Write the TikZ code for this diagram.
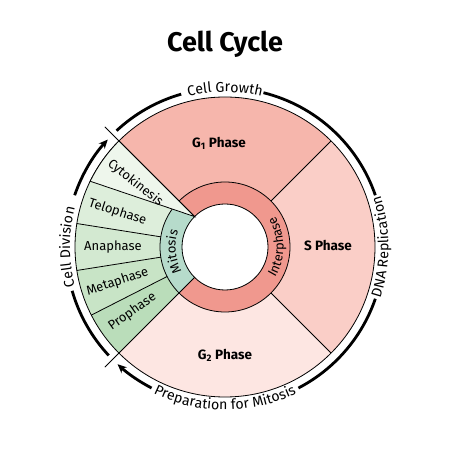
\documentclass[tikz,border=0pt]{standalone}
\usepackage{fontspec}
\setmainfont{Fira Sans}
\usetikzlibrary{arrows.meta,decorations.text}

\definecolor{gonecol}{RGB}{246,182,172}
\definecolor{sphasecol}{RGB}{250,206,199}
\definecolor{gtwocol}{RGB}{253,230,226}
\definecolor{interringcol}{RGB}{240,152,142}
\definecolor{mitringcol}{RGB}{182,219,203}
\definecolor{cytocol}{RGB}{238,246,236}
\definecolor{telocol}{RGB}{221,238,219}
\definecolor{anacol}{RGB}{211,233,209}
\definecolor{metacol}{RGB}{200,228,198}
\definecolor{procol}{RGB}{186,221,186}

\newcommand{\lblfont}{\fontsize{13}{15}\selectfont}
\newcommand{\arcfont}{\fontsize{14.2}{16}\selectfont}
% colour, from, to, inner radius, outer radius
\newcommand{\wedgefill}[5]{%
  \fill[#1] (#2:#4) -- (#2:#5) arc[start angle=#2,end angle=#3,radius=#5]
    -- (#3:#4) arc[start angle=#3,end angle=#2,radius=#4] -- cycle;}

\begin{document}
\begin{tikzpicture}[x=1pt,y=1pt,
  border/.style={draw=black,line width=0.8pt},
  cyclearc/.style={line width=2.8pt},
  tipped/.style={cyclearc,-{Stealth[length=9pt,width=8pt]}},
  phaselbl/.style={font=\fontsize{13.5}{15}\selectfont\bfseries},
  sublbl/.style={font=\lblfont},
  curvedlbl/.style={decorate,decoration={text along path,text align=center,text={|\arcfont|#1}}},
  ringlbl/.style={decorate,decoration={text along path,text align=center,text={|\lblfont|#1}}}]
  \useasboundingbox (-225,-223) rectangle (225,247);

  % interphase
  \wedgefill{gonecol}{45}{135}{65}{150}
  \wedgefill{sphasecol}{-45}{45}{65}{150}
  \wedgefill{gtwocol}{225}{315}{65}{150}
  \wedgefill{interringcol}{-135}{135}{43}{65}
  % mitosis
  \wedgefill{telocol}{135}{171}{65}{150}
  \wedgefill{anacol}{171}{189}{65}{150}
  \wedgefill{metacol}{189}{207}{65}{150}
  \wedgefill{procol}{207}{225}{65}{150}
  \wedgefill{mitringcol}{135}{225}{43}{65}

  \draw[border] (0,0) circle (150);
  \draw[border] (0,0) circle (65);
  \draw[border] (0,0) circle (43);
  \foreach \a in {45,-45,171,189,207}
    \draw[border] (\a:65) -- (\a:150);
  \draw[border] (135:43) -- (135:170);
  \draw[border] (225:43) -- (225:170);
  \filldraw[border,fill=cytocol] (135:43) -- (135:150)
    arc[start angle=135,end angle=154,radius=150] -- cycle;

  % outer arcs
  \draw[cyclearc] (133:159) arc[start angle=133,end angle=106,radius=159];
  \draw[cyclearc] (76:159) arc[start angle=76,end angle=19,radius=159];
  \draw[cyclearc] (-19:159) arc[start angle=-19,end angle=-62.5,radius=159];
  \draw[tipped] (242.5:159) arc[start angle=242.5,end angle=227.5,radius=159];
  \draw[cyclearc] (223:159) arc[start angle=223,end angle=196,radius=159];
  \draw[tipped] (161:159) arc[start angle=161,end angle=137.5,radius=159];

  % curved labels
  \path[curvedlbl={Cell Growth}] (125:155) arc[start angle=125,end angle=55,radius=155];
  \path[curvedlbl={DNA Replication}] (-30:163.5) arc[start angle=-30,end angle=30,radius=163.5];
  \path[curvedlbl={Preparation for Mitosis}] (235:163) arc[start angle=235,end angle=305,radius=163];
  \path[curvedlbl={Cell Division}] (200:155) arc[start angle=200,end angle=160,radius=155];
  \path[ringlbl={Interphase}] (-45:58.5) arc[start angle=-45,end angle=45,radius=58.5];
  \path[ringlbl={Mitosis}] (220:49.5) arc[start angle=220,end angle=150,radius=49.5];

  \node[font=\fontsize{27}{30}\selectfont\bfseries] (title) at (0,203) {Cell Cycle};
  \node[phaselbl] (gonelbl) at (-6,104) {G\textsubscript{1} Phase};
  \node[phaselbl] (sphaselbl) at (103,2) {S Phase};
  \node[phaselbl] (gtwolbl) at (0,-108) {G\textsubscript{2} Phase};
  \node[sublbl,rotate=-38,inner sep=1pt] (cytolbl) at (144.5:110) {Cytokinesis};
  \node[sublbl,rotate=-18,inner sep=1pt] (telolbl) at (162:113) {Telophase};
  \node[sublbl,inner sep=1pt] (analbl) at (180:112) {Anaphase};
  \node[sublbl,rotate=18,inner sep=1pt] (metalbl) at (198:113) {Metaphase};
  \node[sublbl,rotate=35,inner sep=1pt] (prolbl) at (215:113) {Prophase};
\end{tikzpicture}
\end{document}
